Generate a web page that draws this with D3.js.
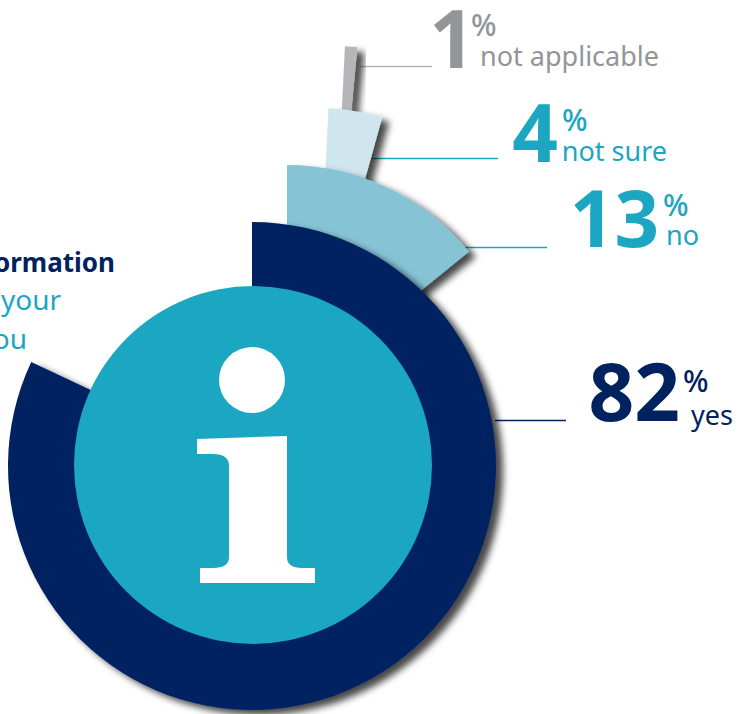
<!DOCTYPE html>
<html>
<head>
<meta charset="utf-8"/>
<style>
html, body { margin: 0; padding: 0; background: #fff; overflow: hidden; }
svg { display: block; }
text { font-family: "Noto Sans", sans-serif; }
</style>
</head>
<body>
<svg width="739" height="714"></svg>
<script src="https://d3js.org/d3.v7.min.js"></script>
<script>

// data
var categories = ["yes", "no", "not sure", "not applicable"];
var values = [82, 13, 4, 1];
var headingLines = ["information", "your", "you"];

// colours, same order as categories
var wedgeColours = ["#002360", "#85c3d5", "#d0e6ee", "#b5b6ba"];
var textColours = ["#002360", "#1ba6c1", "#1ba6c1", "#939598"];
var lineColours = ["#002360", "#1ba6c1", "#1ba6c1", "#b5b6ba"];

// each wedge was hand placed in the original, so it has its own apex
var wedgeX = [252, 287, 316, 332];
var wedgeY = [466, 399, 355, 311];
var wedgeR = [244, 234, 247, 265];
var wedgeStart = [0, 0, 2.9, 2.8];
var wedgeStretch = [1, 1.09, 0.88, 0.75];

// labels and leaders
var numberX = [680, 659, 558, 475];
var numberSize = [80, 78, 80, 80];
var numberY = [421, 247, 162, 68];
var percentX = [683, 663, 562, 471];
var percentY = [392, 216, 131, 36];
var nameX = [733, 699, 667, 659];
var nameY = [425, 245, 161, 66];
var lineX1 = [495, 465, 372, 360];
var lineX2 = [566, 547, 498, 432];
var lineY = [420.5, 247.5, 158.5, 66.5];

var svg = d3.select("svg");

var defs = svg.append("defs");
var shadow = defs.append("filter")
    .attr("id", "shadow")
    .attr("x", "-20%").attr("y", "-20%")
    .attr("width", "150%").attr("height", "150%");
shadow.append("feDropShadow")
    .attr("dx", 7).attr("dy", 5)
    .attr("stdDeviation", 3.5)
    .attr("flood-color", "#000")
    .attr("flood-opacity", 0.72);

var angle = d3.scaleLinear().domain([0, 100]).range([0, 2 * Math.PI]);
var arc = d3.arc().innerRadius(0);

// leader lines go under the wedges
svg.selectAll("line.leader")
  .data(categories)
  .enter().append("line")
    .attr("class", "leader")
    .attr("x1", function(d, i) { return lineX1[i]; })
    .attr("x2", function(d, i) { return lineX2[i]; })
    .attr("y1", function(d, i) { return lineY[i]; })
    .attr("y2", function(d, i) { return lineY[i]; })
    .attr("stroke", function(d, i) { return lineColours[i]; })
    .attr("stroke-width", 1.3);

// smallest wedge first so the big ones sit on top
var order = d3.range(values.length).reverse();

svg.selectAll("path.wedge")
  .data(order)
  .enter().append("path")
    .attr("class", "wedge")
    .attr("transform", function(i) { return "translate(" + wedgeX[i] + "," + wedgeY[i] + ")"; })
    .attr("d", function(i) {
        var start = wedgeStart[i] * Math.PI / 180;
        return arc({
            outerRadius: wedgeR[i],
            startAngle: start,
            endAngle: start + angle(values[i]) * wedgeStretch[i]
        });
    })
    .attr("fill", function(i) { return wedgeColours[i]; })
    .attr("filter", "url(#shadow)");

// centre disc with the i
svg.append("circle")
    .attr("cx", 253).attr("cy", 465).attr("r", 179)
    .attr("fill", "#1ba6c1");

svg.append("circle")
    .attr("cx", 252).attr("cy", 380).attr("r", 33)
    .attr("fill", "#fff");

svg.append("path")
    .attr("fill", "#fff")
    .attr("d", "M197 439 L287 436 L287 557 Q287 568 302 568 L315 568 L315 583 L200 583 L200 568 L213 568 Q229 568 229 557 L229 466 Q229 454 213 454 L197 454 Z");

// numbers
svg.selectAll("text.number")
  .data(values)
  .enter().append("text")
    .attr("class", "number")
    .attr("x", function(d, i) { return numberX[i]; })
    .attr("y", function(d, i) { return numberY[i]; })
    .attr("text-anchor", "end")
    .attr("font-size", function(d, i) { return numberSize[i]; })
    .attr("font-weight", 700)
    .attr("fill", function(d, i) { return textColours[i]; })
    .text(function(d) { return d; });

svg.selectAll("text.percent")
  .data(values)
  .enter().append("text")
    .attr("class", "percent")
    .attr("x", function(d, i) { return percentX[i]; })
    .attr("y", function(d, i) { return percentY[i]; })
    .attr("font-size", 30)
    .attr("font-weight", 500)
    .attr("fill", function(d, i) { return textColours[i]; })
    .text("%");

svg.selectAll("text.name")
  .data(categories)
  .enter().append("text")
    .attr("class", "name")
    .attr("x", function(d, i) { return nameX[i]; })
    .attr("y", function(d, i) { return nameY[i]; })
    .attr("text-anchor", "end")
    .attr("font-size", 27)
    .attr("fill", function(d, i) { return textColours[i]; })
    .text(function(d) { return d; });

// heading, runs off the left edge
var headingEnd = [115, 61, 27];
var headingBase = [272, 310, 349];
var headingSize = [26, 28, 28];
svg.selectAll("text.heading")
  .data(headingLines)
  .enter().append("text")
    .attr("class", "heading")
    .attr("x", function(d, i) { return headingEnd[i]; })
    .attr("y", function(d, i) { return headingBase[i]; })
    .attr("text-anchor", "end")
    .attr("font-size", function(d, i) { return headingSize[i]; })
    .attr("font-weight", function(d, i) { return i == 0 ? 700 : 400; })
    .attr("fill", function(d, i) { return i == 0 ? "#002360" : "#1ba6c1"; })
    .text(function(d) { return d; });

</script>
</body>
</html>
